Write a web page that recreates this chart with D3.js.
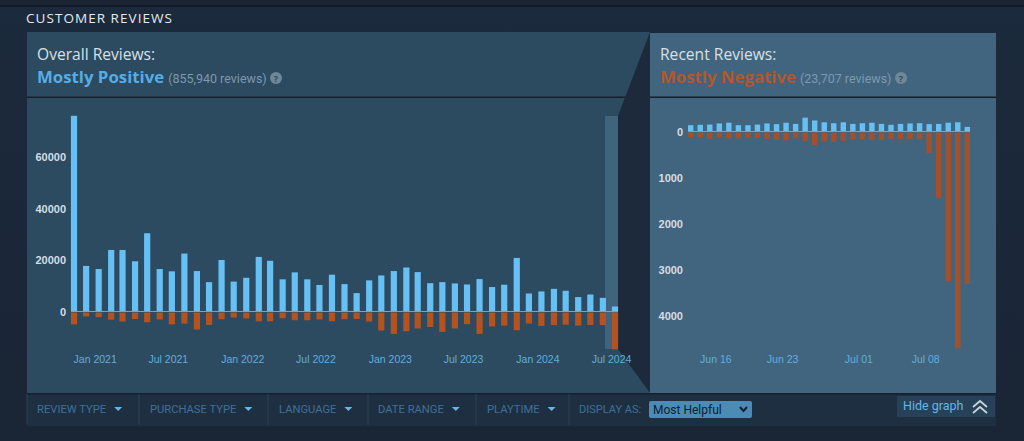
<!DOCTYPE html>
<html>
<head>
<meta charset="utf-8">
<script src="https://cdn.jsdelivr.net/npm/d3@7"></script>
<style>
  html, body { margin: 0; padding: 0; background: #1b2838; overflow: hidden; }
  svg { display: block; }
  text { font-family: "Open Sans", sans-serif; }
  .tick-y text { font-family: "Liberation Sans", sans-serif; font-size: 11px; font-weight: bold; fill: #d5dde4; }
  .tick-x text { font-family: "Liberation Sans", sans-serif; font-size: 10.5px; fill: #62aedd; }
</style>
</head>
<body>
<div id="chart-container"></div>
<script>
// monthly reviews, whole life of the game
const overallMonths = [
  "2020-11", "2020-12",
  "2021-01", "2021-02", "2021-03", "2021-04", "2021-05", "2021-06", "2021-07", "2021-08", "2021-09", "2021-10", "2021-11", "2021-12",
  "2022-01", "2022-02", "2022-03", "2022-04", "2022-05", "2022-06", "2022-07", "2022-08", "2022-09", "2022-10", "2022-11", "2022-12",
  "2023-01", "2023-02", "2023-03", "2023-04", "2023-05", "2023-06", "2023-07", "2023-08", "2023-09", "2023-10", "2023-11", "2023-12",
  "2024-01", "2024-02", "2024-03", "2024-04", "2024-05", "2024-06", "2024-07"
];
const overallUp = [
  76000, 17700, 16500, 23900, 23900, 19500, 30400, 16500, 15600, 22500, 15700, 11400, 20000, 11600,
  13100, 21200, 19700, 12500, 15200, 12500, 10300, 14300, 10650, 7150, 12100, 14000,
  15700, 17100, 15300, 11000, 11400, 10900, 10500, 12600, 9500, 10400, 20800, 7000,
  7800, 8800, 8050, 5600, 6600, 5300, 1950
];
const overallDown = [
  5000, 1900, 2200, 3200, 3900, 2900, 4200, 3100, 5000, 4700, 7000, 5200, 3000, 2300,
  2700, 3800, 3800, 2600, 3400, 3400, 3100, 3800, 3000, 2900, 3900, 7400,
  8700, 7700, 6600, 6000, 7900, 6600, 4900, 8700, 5800, 5500, 7300, 4700,
  5600, 5300, 5100, 5500, 5200, 5300, 14700
];
const overallYTicks = [0, 20000, 40000, 60000];
const overallXTicks = ["2021-01", "2021-07", "2022-01", "2022-07", "2023-01", "2023-07", "2024-01", "2024-07"];

// daily reviews, last 30 days
const recentDays = [
  "2024-06-13", "2024-06-14", "2024-06-15", "2024-06-16", "2024-06-17", "2024-06-18", "2024-06-19", "2024-06-20",
  "2024-06-21", "2024-06-22", "2024-06-23", "2024-06-24", "2024-06-25", "2024-06-26", "2024-06-27", "2024-06-28",
  "2024-06-29", "2024-06-30", "2024-07-01", "2024-07-02", "2024-07-03", "2024-07-04", "2024-07-05", "2024-07-06",
  "2024-07-07", "2024-07-08", "2024-07-09", "2024-07-10", "2024-07-11", "2024-07-12"
];
const recentUp = [
  137, 145, 150, 175, 190, 137, 137, 150, 175, 160, 190, 165, 300, 240, 200,
  180, 200, 165, 180, 190, 165, 145, 165, 175, 180, 160, 165, 190, 200, 100
];
const recentDown = [
  130, 130, 160, 130, 150, 150, 135, 135, 165, 180, 190, 145, 210, 295, 215,
  225, 200, 170, 170, 180, 190, 160, 160, 160, 170, 470, 1440, 3250, 4700, 3300
];
const recentYTicks = [0, 1000, 2000, 3000, 4000];
const recentXTicks = ["2024-06-16", "2024-06-23", "2024-07-01", "2024-07-08"];

const filterLabels = ["REVIEW TYPE", "PURCHASE TYPE", "LANGUAGE", "DATE RANGE", "PLAYTIME"];
const filterX = [37, 150, 279, 378, 487];
const filterDividers = [27, 139, 268, 368, 476, 569];

const width = 1024;
const height = 441;
const blue = "#66c0f4";
const parseDate = s => new Date(s + (s.length === 7 ? "-01" : "") + "T00:00:00Z");

const svg = d3.select("#chart-container").append("svg")
  .attr("width", width)
  .attr("height", height)
  .attr("viewBox", [0, 0, width, height]);

const defs = svg.append("defs");
const pageGrad = defs.append("linearGradient").attr("id", "pageBg").attr("x2", 0).attr("y2", 1);
pageGrad.append("stop").attr("offset", 0).attr("stop-color", "#1b2a3c");
pageGrad.append("stop").attr("offset", 1).attr("stop-color", "#1a2535");

// page background and panels
svg.append("rect").attr("width", width).attr("height", height).attr("fill", "url(#pageBg)");
svg.append("rect").attr("width", width).attr("height", 5).attr("fill", "#1a2433");
svg.append("rect").attr("y", 5).attr("width", width).attr("height", 2).attr("fill", "#121a26");

svg.append("text").attr("x", 26).attr("y", 23)
  .attr("font-size", 13.5).attr("font-weight", 500).attr("letter-spacing", 1.05).attr("fill", "#e6ebef")
  .text("CUSTOMER REVIEWS");

svg.append("rect").attr("x", 27).attr("y", 32).attr("width", 623).attr("height", 361).attr("fill", "#2c4a60");
svg.append("rect").attr("x", 27).attr("y", 96.5).attr("width", 623).attr("height", 1.5).attr("fill", "#15202c");
svg.append("rect").attr("x", 605).attr("y", 116).attr("width", 13).attr("height", 233).attr("fill", "#40647d");
svg.append("polygon").attr("points", "650,32 618,116 618,349 650,393").attr("fill", "#1c2a3c");
svg.append("rect").attr("x", 650).attr("y", 33).attr("width", 346).attr("height", 360).attr("fill", "#41657f");
svg.append("rect").attr("x", 650).attr("y", 96.5).attr("width", 346).attr("height", 1.5).attr("fill", "#15202c");

function header(x, title, rating, ratingColor, count, helpX) {
  svg.append("text").attr("x", x).attr("y", 60)
    .attr("font-size", 15.6).attr("fill", "#d9e0e5").text(title);
  const r = svg.append("text").attr("x", x).attr("y", 83)
    .attr("font-size", 16.8).attr("font-weight", 700).attr("fill", ratingColor).text(rating);
  const end = r.node().getComputedTextLength();
  svg.append("text").attr("x", x + end + 4).attr("y", 83)
    .style("font-family", "Roboto, sans-serif")
    .attr("font-size", 12.5).attr("fill", "#7d99ae").text(count);
  svg.append("circle").attr("cx", helpX).attr("cy", 78).attr("r", 6).attr("fill", "#6e8799");
  svg.append("text").attr("x", helpX).attr("y", 81.5).attr("text-anchor", "middle")
    .attr("font-size", 9).attr("font-weight", 700).attr("fill", "#2c4a60").text("?");
}
header(37, "Overall Reviews:", "Mostly Positive", "#55ade6", "(855,940 reviews)", 276);
header(660, "Recent Reviews:", "Mostly Negative", "#b5562b", "(23,707 reviews)", 901);

// sign is +1 when the y axis grows upwards (positive reviews on top), -1 when it grows downwards
function barChart({ dates, up, down, x, y, sign, yTicks, xTicks, xFormat, barWidth, red, baseX, labelShift, yLabelX, labelY }) {
  const g = svg.append("g");

  // zero line
  g.append("line")
    .attr("x1", baseX[0]).attr("x2", baseX[1])
    .attr("y1", y(0)).attr("y2", y(0))
    .attr("stroke", "#7fa0b6").attr("stroke-width", 1);

  g.append("g").selectAll("rect")
    .data(dates)
    .join("rect")
    .attr("x", d => x(d) - barWidth / 2)
    .attr("width", barWidth)
    .attr("y", (d, i) => y(sign * up[i]))
    .attr("height", (d, i) => y(0) - 0.5 - y(sign * up[i]))
    .attr("fill", blue);

  g.append("g").selectAll("rect")
    .data(dates)
    .join("rect")
    .attr("x", d => x(d) - barWidth / 2)
    .attr("width", barWidth)
    .attr("y", y(0) + 1)
    .attr("height", (d, i) => y(-sign * down[i]) - y(0) - 1)
    .attr("fill", red);

  g.append("g")
    .attr("class", "tick-y")
    .attr("transform", `translate(${yLabelX},0)`)
    .call(d3.axisLeft(y).tickValues(yTicks).tickSize(0).tickPadding(0))
    .call(a => a.selectAll("text").text(d => d))
    .call(a => a.select(".domain").remove());

  g.append("g")
    .attr("class", "tick-x")
    .attr("transform", `translate(${labelShift},${labelY})`)
    .call(d3.axisBottom(x).tickValues(xTicks).tickFormat(xFormat).tickSize(0).tickPadding(0))
    .call(a => a.select(".domain").remove());
}

// overall: months are not equally long, so a time scale gets the spacing right
const overallDates = overallMonths.map(parseDate);
barChart({
  dates: overallDates,
  up: overallUp,
  down: overallDown,
  x: d3.scaleUtc().domain(d3.extent(overallDates)).range([74, 615]),
  y: d3.scaleLinear().domain([0, 60000]).range([311.5, 157]),
  sign: 1,
  yTicks: overallYTicks,
  xTicks: overallXTicks.map(parseDate),
  xFormat: d3.utcFormat("%b %Y"),
  barWidth: 6.2,
  red: "#b4531f",
  baseX: [71, 618],
  labelShift: -4,
  yLabelX: 66,
  labelY: 356
});

const recentDates = recentDays.map(parseDate);
barChart({
  dates: recentDates,
  up: recentUp,
  down: recentDown,
  x: d3.scaleUtc().domain(d3.extent(recentDates)).range([690.7, 967.3]),
  y: d3.scaleLinear().domain([0, 4000]).range([131.5, 316]),
  sign: -1,
  yTicks: recentYTicks,
  xTicks: recentXTicks.map(parseDate),
  xFormat: d3.utcFormat("%b %d"),
  barWidth: 5.4,
  red: "#a4512b",
  baseX: [688, 970],
  labelShift: -4,
  yLabelX: 683,
  labelY: 356
});

// filter bar under the graphs
const bar = svg.append("g");
bar.append("rect").attr("x", 27).attr("y", 393).attr("width", 969).attr("height", 33).attr("fill", "#1e2f42");
bar.append("rect").attr("x", 27).attr("y", 393).attr("width", 969).attr("height", 1.5).attr("fill", "#16212e");
bar.append("g").selectAll("line").data(filterDividers).join("line")
  .attr("x1", d => d).attr("x2", d => d).attr("y1", 394).attr("y2", 425)
  .attr("stroke", "#2b4054");
const filterText = bar.append("g").selectAll("text").data(filterLabels).join("text")
  .attr("x", (d, i) => filterX[i]).attr("y", 413)
  .attr("font-size", 11.2).attr("fill", "#3f6f96")
  .style("font-family", "Roboto, sans-serif")
  .text(d => d);
filterText.each(function (d, i) {
  const tx = filterX[i] + this.getComputedTextLength() + 12;
  bar.append("path").attr("d", `M${tx - 4},407 h8 l-4,4 z`).attr("fill", "#66b5e6");
});
bar.append("text").attr("x", 579).attr("y", 413)
  .attr("font-size", 11).attr("fill", "#3f6f96").style("font-family", "Roboto, sans-serif")
  .text("DISPLAY AS:");

// sort dropdown
bar.append("rect").attr("x", 649).attr("y", 401).attr("width", 103).attr("height", 17).attr("rx", 2).attr("fill", "#4a8cb5");
bar.append("text").attr("x", 653).attr("y", 413.5).attr("font-size", 12)
  .style("font-family", "Roboto, sans-serif").attr("fill", "#0d2130").text("Most Helpful");
bar.append("path").attr("d", "M740,407 l3.5,4 l3.5,-4").attr("fill", "none").attr("stroke", "#0d2130").attr("stroke-width", 2);

// hide graph button
bar.append("rect").attr("x", 897).attr("y", 396).attr("width", 98).attr("height", 21).attr("fill", "#274258");
bar.append("text").attr("x", 903).attr("y", 410).attr("font-size", 12.5)
  .style("font-family", "Roboto, sans-serif").attr("fill", "#66b5e6").text("Hide graph");
bar.append("path").attr("d", "M973,407 l7,-6 l7,6 M973,413 l7,-6 l7,6")
  .attr("fill", "none").attr("stroke", "#c6d4df").attr("stroke-width", 1.8);
</script>
</body>
</html>
